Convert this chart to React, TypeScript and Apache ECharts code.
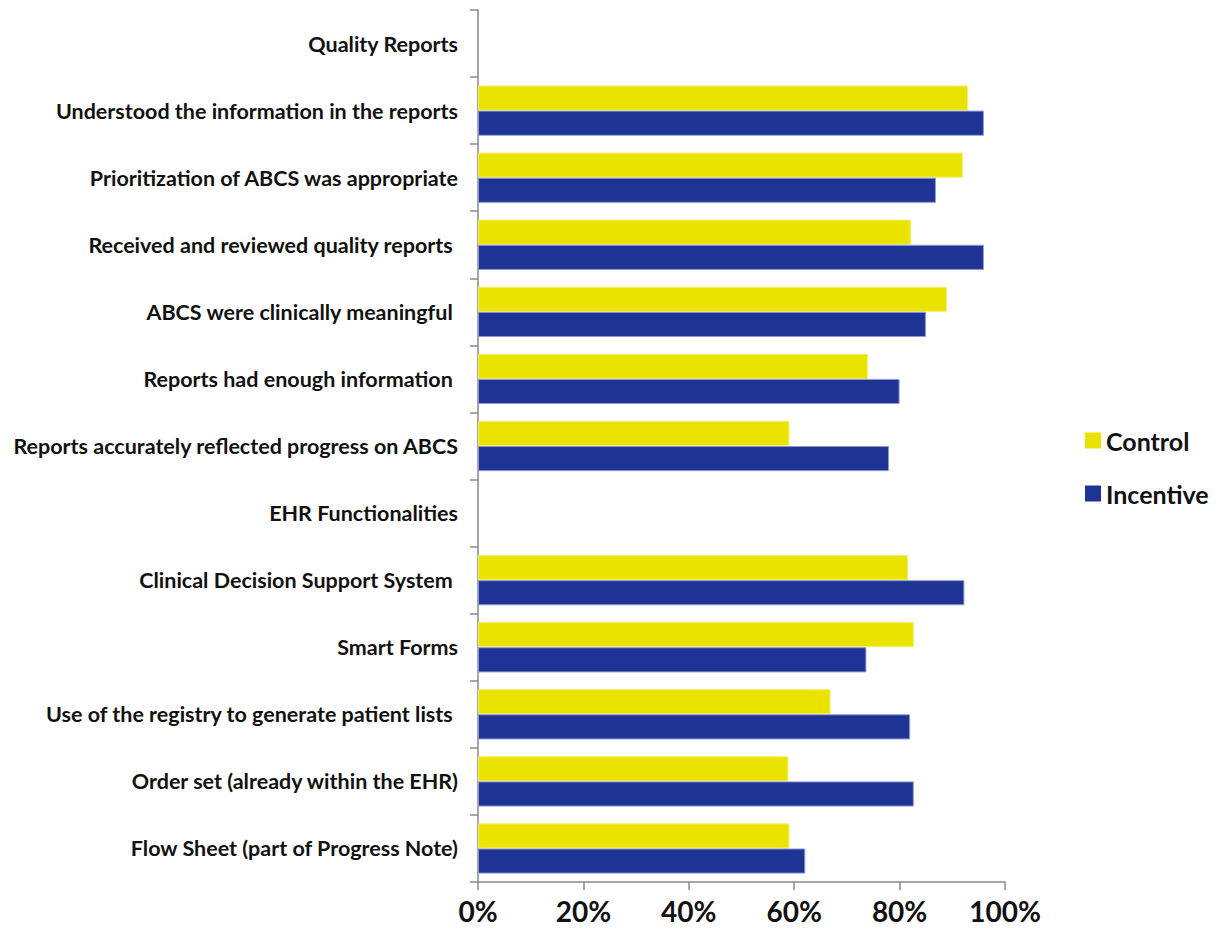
import React, { useEffect, useRef } from "react";
import * as echarts from "echarts";

const categories = [
  "Quality Reports",
  "Understood the information in the reports",
  "Prioritization of ABCS was appropriate",
  "Received and reviewed quality reports ",
  "ABCS were clinically meaningful ",
  "Reports had enough information ",
  "Reports accurately reflected progress on ABCS",
  "EHR Functionalities",
  "Clinical Decision Support System ",
  "Smart Forms",
  "Use of the registry to generate patient lists ",
  "Order set (already within the EHR)",
  "Flow Sheet (part of Progress Note)",
];

const controlValues: (number | string)[] = ["-", 93, 92, 82.2, 89, 74, 59.1, "-", 81.6, 82.7, 66.9, 58.9, 59.1];
const incentiveValues: (number | string)[] = ["-", 96, 86.9, 96, 85, 80, 78, "-", 92.3, 73.7, 82, 82.7, 62.1];

const xTicks = [0, 20, 40, 60, 80, 100];

const FONT = "Lato, 'Open Sans', sans-serif";

export default function App() {
  const ref = useRef<HTMLDivElement>(null);
  useEffect(() => {
    if (!ref.current) return;
    const chart = echarts.init(ref.current, null, { renderer: "svg" });
    chart.setOption({
      animation: false,
      backgroundColor: "#ffffff",
      grid: { left: 470, right: 216, top: 2, bottom: 51, containLabel: false },
      legend: {
        orient: "vertical",
        left: 1077,
        top: 420,
        padding: 0,
        itemWidth: 16,
        itemHeight: 16,
        itemGap: 28,
        icon: "rect",
        textStyle: { fontFamily: FONT, fontWeight: "bold", fontSize: 25, color: "#111" },
        data: [
          { name: "Control", itemStyle: { borderWidth: 0 } },
          { name: "Incentive", itemStyle: { borderWidth: 0 } },
        ],
      },
      xAxis: {
        type: "value",
        min: xTicks[0],
        max: xTicks[xTicks.length - 1],
        interval: 20,
        axisLine: { show: true, lineStyle: { color: "#8a8a8a", width: 1.5 } },
        axisTick: { show: true, length: 8, lineStyle: { color: "#8a8a8a", width: 1.5 } },
        splitLine: { show: false },
        axisLabel: {
          formatter: (v: number) => v + "%",
          fontFamily: FONT,
          fontWeight: "bold",
          fontSize: 28,
          color: "#111",
          margin: 15,
        },
      },
      yAxis: {
        type: "category",
        inverse: true,
        data: categories,
        axisLine: { show: true, lineStyle: { color: "#8a8a8a", width: 1.5 } },
        axisTick: { show: true, length: 8, lineStyle: { color: "#8a8a8a", width: 1.5 } },
        axisLabel: {
          fontFamily: FONT,
          fontWeight: "bold",
          fontSize: 21.5,
          color: "#111",
          margin: 20,
        },
      },
      series: [
        {
          name: "Control",
          type: "bar",
          data: controlValues,
          barGap: "0%",
          barCategoryGap: "25%",
          itemStyle: { color: "#EAE300", borderColor: "#f4ef70", borderWidth: 1 },
        },
        {
          name: "Incentive",
          type: "bar",
          data: incentiveValues,
          barGap: "0%",
          barCategoryGap: "25%",
          itemStyle: { color: "#1F3394", borderColor: "#8c9bd0", borderWidth: 1 },
        },
      ],
    });
    return () => chart.dispose();
  }, []);
  return <div ref={ref} style={{ width: 1213, height: 925 }} />;
}
